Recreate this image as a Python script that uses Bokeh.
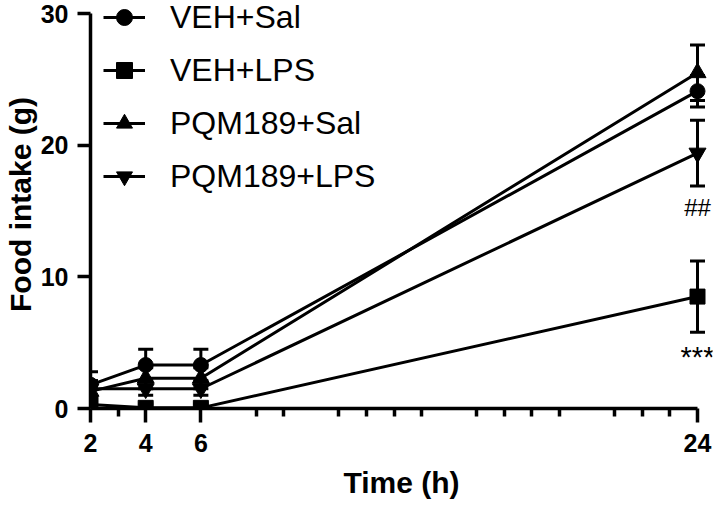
from bokeh.plotting import figure
from bokeh.models import (Range1d, FixedTicker, Legend, LegendItem, Whisker,
                          TeeHead, ColumnDataSource)
from bokeh.core.properties import value
from bokeh.embed import file_html
from bokeh.resources import INLINE

# ---------------- data ----------------
time_h = [2, 4, 6, 24]
series_names = ["VEH+Sal", "VEH+LPS", "PQM189+Sal", "PQM189+LPS"]
veh_sal = [1.8, 3.3, 3.3, 24.1]
veh_sal_sem = [1.0, 1.2, 1.2, 1.2]
veh_lps = [0.3, 0.05, 0.05, 8.5]
veh_lps_sem = [0.5, 0.3, 0.3, 2.7]
pqm_sal = [1.3, 2.3, 2.3, 25.5]
pqm_sal_sem = [0.8, 0.8, 0.8, 2.1]
pqm_lps = [1.5, 1.5, 1.5, 19.4]
pqm_lps_sem = [0.6, 0.5, 0.5, 2.5]
markers = ["circle", "square", "triangle", "inverted_triangle"]

x_axis_span = [2, 24]
y_axis_span = [0, 30]
major_ticks = [2, 4, 6, 24]
minor_ticks = [3, 8, 9, 11, 12, 13, 14, 16, 17, 18, 19, 21, 22, 23]
y_ticks = [0, 10, 20, 30]

# significance labels at 24 h
sig_series = ["PQM189+LPS", "VEH+LPS"]
sig_labels = ["##", "***"]

# ---------------- layout (pixels) ----------------
FONT = "Liberation Sans"
W, H = 713, 501
FRAME_L, FRAME_R, FRAME_T, FRAME_B = 90, 712, 0, 408
AX_X1_PX = 697      # pixel of x=24
AX_Y1_PX = 13       # pixel of y=30

xs = (AX_X1_PX - FRAME_L) / (x_axis_span[1] - x_axis_span[0])
ys = (FRAME_B - AX_Y1_PX) / (y_axis_span[1] - y_axis_span[0])
x_end = x_axis_span[1] + (FRAME_R - AX_X1_PX) / xs
y_end = y_axis_span[1] + (AX_Y1_PX - FRAME_T) / ys

p = figure(width=W, height=H, output_backend="svg", toolbar_location=None,
           x_range=Range1d(x_axis_span[0], x_end),
           y_range=Range1d(y_axis_span[0], y_end),
           min_border_left=FRAME_L, min_border_right=W - FRAME_R,
           min_border_top=FRAME_T, min_border_bottom=H - FRAME_B)
p.outline_line_color = None
p.xgrid.visible = False
p.ygrid.visible = False
p.background_fill_color = "white"

means = [veh_sal, veh_lps, pqm_sal, pqm_lps]
sems = [veh_sal_sem, veh_lps_sem, pqm_sal_sem, pqm_lps_sem]
sizes = [15, 15, 17, 17]

items = []
for name, m, s, mk, sz in zip(series_names, means, sems, markers, sizes):
    src = ColumnDataSource(dict(x=time_h, y=m,
                                lo=[a - b for a, b in zip(m, s)],
                                hi=[a + b for a, b in zip(m, s)]))
    w = Whisker(source=src, base="x", upper="hi", lower="lo",
                line_color="black", line_width=3,
                upper_head=TeeHead(size=15, line_width=3, line_color="black"),
                lower_head=TeeHead(size=15, line_width=3, line_color="black"))
    p.add_layout(w)
    lr = p.line("x", "y", source=src, line_color="black", line_width=3)
    sr = p.scatter("x", "y", source=src, marker=mk, size=sz,
                   fill_color="black", line_color="black")
    items.append(LegendItem(label=name, renderers=[lr, sr]))

# significance text
sig_x, sig_y = [], []
for nm in sig_series:
    i = series_names.index(nm)
    sig_x.append(time_h[-1])
    sig_y.append(means[i][-1] - sems[i][-1])
p.text(x=[sig_x[0]], y=[sig_y[0]], text=[sig_labels[0]], text_align="center",
       text_baseline="top", y_offset=8, text_font=value(FONT),
       text_font_size="24px", text_color="black")
p.text(x=[sig_x[1]], y=[sig_y[1]], text=[sig_labels[1]], text_align="center",
       text_baseline="top", y_offset=9, text_font=value(FONT),
       text_font_size="29px", text_color="black")

legend = Legend(items=items, location=(13, 212), padding=0, margin=0,
                border_line_alpha=0, background_fill_alpha=0,
                glyph_width=42, glyph_height=40, label_height=40,
                label_standoff=25, spacing=13,
                label_text_font=FONT, label_text_font_size="32px",
                label_text_color="black")
p.add_layout(legend)

# axes
xa = p.xaxis[0]
xa.ticker = FixedTicker(ticks=major_ticks, minor_ticks=minor_ticks)
xa.axis_label = "Time (h)"
xa.bounds = tuple(x_axis_span)
ya = p.yaxis[0]
ya.ticker = FixedTicker(ticks=y_ticks)
ya.axis_label = "Food intake (g)"
ya.bounds = tuple(y_axis_span)
for ax in (xa, ya):
    ax.axis_line_width = 3.5
    ax.axis_line_color = "black"
    ax.major_tick_line_width = 3.5
    ax.major_tick_line_color = "black"
    ax.major_tick_in = 0
    ax.minor_tick_in = 0
    ax.minor_tick_line_width = 3.5
    ax.minor_tick_line_color = "black"
    ax.major_label_text_font = FONT
    ax.major_label_text_font_style = "bold"
    ax.major_label_text_font_size = "25px"
    ax.major_label_text_color = "black"
    ax.axis_label_text_font = FONT
    ax.axis_label_text_font_style = "bold"
    ax.axis_label_text_font_size = "30px"
    ax.axis_label_text_color = "black"
xa.major_tick_out = 14
xa.minor_tick_out = 8
xa.major_label_standoff = 11
xa.axis_label_standoff = 11
ya.major_tick_out = 13
ya.minor_tick_line_color = None
ya.major_label_standoff = 9
ya.axis_label_standoff = 1

open("out.html", "w").write(file_html(p, INLINE))
